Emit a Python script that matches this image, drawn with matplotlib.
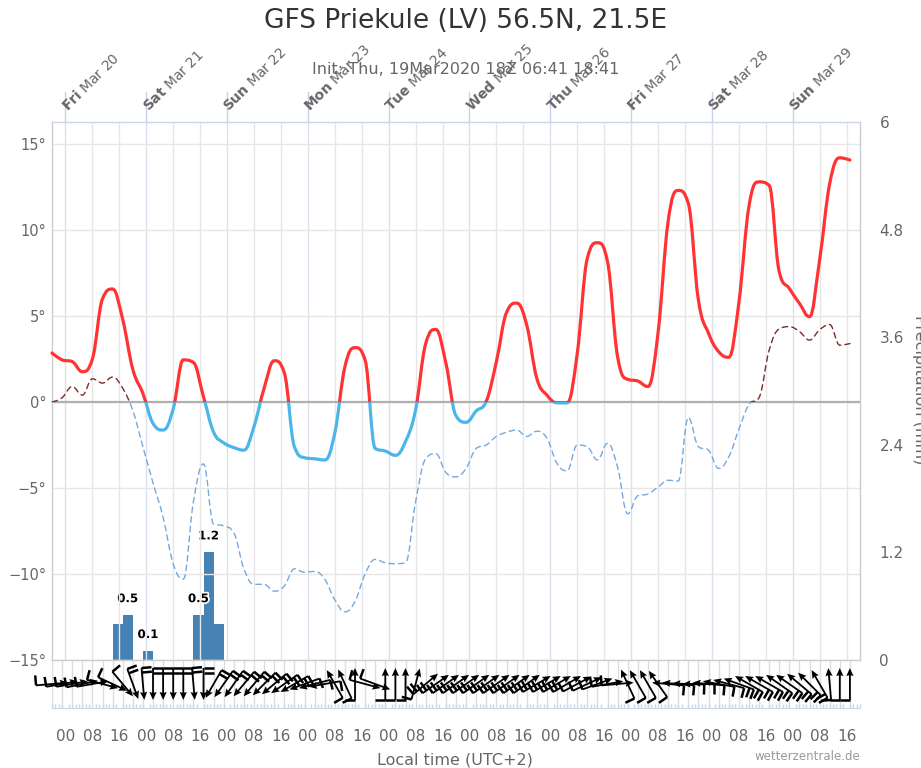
import numpy as np
import matplotlib
matplotlib.use("Agg")
import matplotlib.pyplot as plt
from matplotlib.path import Path
from matplotlib.patches import PathPatch, Rectangle
from matplotlib.collections import LineCollection
from matplotlib.transforms import IdentityTransform
import matplotlib.patheffects as pe

plt.rcParams['font.family'] = ['DejaVu Sans']

# ---------------- data ----------------
# hours after Thu 19 Mar 2020 20:00 local (UTC+2), 3-hourly
hours = np.arange(0, 240, 3)

temp = [2.85, 2.45, 2.35, 1.76, 2.5, 6.0, 6.57, 4.8, 1.9, 0.5,
        -1.24, -1.63, -0.4, 2.45, 2.3, 0.3, -1.75, -2.37, -2.65, -2.8,
        -1.43, 0.8, 2.4, 1.7, -2.6, -3.24, -3.3, -3.37, -1.8, 2.05,
        3.16, 2.44, -2.7, -2.85, -3.1, -2.3, -0.45, 3.4, 4.22, 2.26,
        -0.8, -1.18, -0.52, 0.05, 2.35, 5.2, 5.75, 4.48, 1.38, 0.4,
        -0.05, -0.05, 2.8, 8.35, 9.26, 8.16, 2.63, 1.32, 1.22, 0.9,
        4.0, 10.5, 12.3, 11.55, 5.93, 4.0, 2.93, 2.6, 5.74, 11.36,
        12.8, 12.6, 7.58, 6.6, 5.74, 4.96, 8.26, 12.7, 14.2, 14.07]

dewpoint = [0.0, 0.25, 0.9, 0.4, 1.35, 1.1, 1.45, 0.8, -0.5, -2.6,
            -4.7, -6.7, -9.4, -10.3, -5.8, -3.6, -7.1, -7.2, -7.6, -9.7,
            -10.6, -10.6, -11.0, -10.7, -9.7, -9.9, -9.85, -10.3, -11.5, -12.2,
            -11.6, -10.0, -9.15, -9.35, -9.4, -9.35, -5.8, -3.3, -3.0, -4.1,
            -4.35, -3.86, -2.7, -2.5, -2.0, -1.76, -1.63, -2.0, -1.7, -2.1,
            -3.57, -4.0, -2.5, -2.6, -3.37, -2.4, -3.8, -6.5, -5.45, -5.35,
            -4.95, -4.55, -4.6, -0.9, -2.6, -2.8, -3.86, -3.2, -1.6, -0.15,
            0.25, 3.0, 4.25, 4.38, 4.1, 3.6, 4.2, 4.5, 3.3, 3.4]

# 3-hourly precipitation (mm), accumulated over the 3 h ending at each time
precip = [0, 0, 0, 0, 0, 0, 0, 0.4, 0.5, 0,
          0.1, 0, 0, 0, 0, 0.5, 1.2, 0.4, 0, 0] + [0] * 60
precip_label = [False] * 80
for _i in (8, 10, 15, 16):
    precip_label[_i] = True

# wind arrow direction (degrees, direction the arrow points, 0 = east, 90 = north)
wind_dir = [5, 10, 10, 12, 10, -15, -25, -50, -70, -85,
            -90, -90, -90, -90, -85, -90, -120, -125, -125, -130,
            -130, -135, -140, -145, -150, -160, -165, -170, 120, 115,
            90, -15, -20, 90, 90, 90, 75, 40, 35, 35,
            35, 35, 35, 35, 35, 35, 35, 35, 30, 30,
            30, 30, 28, 25, 20, 10, 5, 115, 120, 120,
            125, 175, 175, 178, 180, 175, 170, 165, 160, 150,
            150, 150, 145, 145, 140, 135, 120, 95, 90, 90]
wind_barbs = [1, 1, 1, 1, 1, 1, 1, 1, 2, 2,
              2, 2, 2, 2, 2, 2, 2, 2, 2, 2,
              2, 2, 2, 2, 2, 1, 1, 1, 1, 1,
              1, 1, 1, 1, 1, 1, 1, 2, 2, 2,
              2, 2, 2, 2, 2, 2, 2, 2, 2, 2,
              2, 2, 1, 1, 1, 1, 1, 1, 1, 1,
              1, 1, 1, 1, 1, 1, 1, 1, 2, 2,
              2, 2, 2, 2, 2, 2, 2, 1, 1, 1]

day_hours = [4, 28, 52, 76, 100, 124, 148, 172, 196, 220]
day_names = ["Fri", "Sat", "Sun", "Mon", "Tue", "Wed", "Thu", "Fri", "Sat", "Sun"]
day_dates = ["Mar 20", "Mar 21", "Mar 22", "Mar 23", "Mar 24",
             "Mar 25", "Mar 26", "Mar 27", "Mar 28", "Mar 29"]
hour_ticks = np.arange(4, 240, 8)
hour_labels = ["00", "08", "16"] * 10

title = "GFS Priekule (LV) 56.5N, 21.5E"
subtitle = "Init: Thu, 19Mar2020 18Z 06:41 18:41"

# ---------------- helpers ----------------
def hc_spline(xs, ys, s=1.5):
    xs = list(map(float, xs)); ys = list(map(float, ys))
    n = len(xs); d = s + 1
    lc = [None] * n; rc = [None] * n
    for i in range(1, n - 1):
        lx, ly = xs[i - 1], ys[i - 1]
        nx_, ny = xs[i + 1], ys[i + 1]
        px, py = xs[i], ys[i]
        lcx = (s * px + lx) / d; lcy = (s * py + ly) / d
        rcx = (s * px + nx_) / d; rcy = (s * py + ny) / d
        if rcx != lcx:
            corr = ((rcy - lcy) * (rcx - px)) / (rcx - lcx) + py - rcy
            lcy += corr; rcy += corr
        if lcy > ly and lcy > py:
            lcy = max(ly, py); rcy = 2 * py - lcy
        elif lcy < ly and lcy < py:
            lcy = min(ly, py); rcy = 2 * py - lcy
        if rcy > ny and rcy > py:
            rcy = max(ny, py); lcy = 2 * py - rcy
        elif rcy < ny and rcy < py:
            rcy = min(ny, py); lcy = 2 * py - rcy
        lc[i] = (lcx, lcy); rc[i] = (rcx, rcy)
    verts = [(xs[0], ys[0])]; codes = [Path.MOVETO]
    for i in range(1, n):
        c1 = rc[i - 1] if rc[i - 1] is not None else (xs[i - 1], ys[i - 1])
        c2 = lc[i] if lc[i] is not None else (xs[i], ys[i])
        verts += [c1, c2, (xs[i], ys[i])]
        codes += [Path.CURVE4] * 3
    return Path(verts, codes)


def zoned_line(ax, xs, ys, col_pos, col_neg, lw, ls, z):
    path = hc_spline(xs, ys)
    for col, rect in ((col_pos, (-10, 0, 300, 60)), (col_neg, (-10, -60, 300, 60))):
        p = PathPatch(path, fill=False, edgecolor=col, lw=lw, linestyle=ls,
                      zorder=z, capstyle='round', joinstyle='round')
        ax.add_patch(p)
        clip = Rectangle(rect[:2], rect[2], rect[3], transform=ax.transData)
        p.set_clip_path(clip)

# ---------------- figure ----------------
W, H = 921, 768
fig = plt.figure(figsize=(W / 100, H / 100), dpi=100)
L, R, T, B = 52, 860, 122, 660
ax = fig.add_axes([L / W, 1 - B / H, (R - L) / W, (B - T) / H])
axw = fig.add_axes([L / W, 1 - 708 / H, (R - L) / W, (708 - B) / H])

ax.set_xlim(0, 240)
axw.set_xlim(0, 240)
ymin, ymax = -15, 16.28
ax.set_ylim(ymin, ymax)

# grid
ax.set_yticks([-15, -10, -5, 0, 5, 10, 15])
ax.set_yticklabels(["\u221215\u00b0", "\u221210\u00b0", "\u22125\u00b0", "0\u00b0", "5\u00b0", "10\u00b0", "15\u00b0"])
ax.tick_params(axis='y', length=0, pad=4, labelsize=10.5, labelcolor='#666666')
ax.grid(axis='y', color='#e6e6e6', lw=1.0)
for h in hour_ticks:
    c = '#dbe1ec' if h in day_hours else '#e6e6e6'
    ax.axvline(h, color=c, lw=1.0, zorder=0)
ax.set_axisbelow(True)

for sname, sp in ax.spines.items():
    sp.set_linewidth(1.0)
ax.spines['top'].set_color('#ccd6eb')
ax.spines['left'].set_color('#cccccc')
ax.spines['right'].set_color('#cccccc')
ax.spines['bottom'].set_color('#cccccc')

# top axis ticks at day boundaries (drawn as short lines above the plot)
ax.set_xticks([])
for h in day_hours:
    ax.plot([h, h], [1.0, 1.0 + 30 / (B - T)], transform=ax.get_xaxis_transform(),
            color='#c8d2e6', lw=1.0, clip_on=False, zorder=1)

# zero line
ax.axhline(0, color='#b0b0b0', lw=1.6, zorder=1)

# precipitation
ax2 = ax.twinx()
ax2.set_ylim(0, 6)
ax2.set_yticks([0, 1.2, 2.4, 3.6, 4.8, 6])
ax2.set_yticklabels(["0", "1.2", "2.4", "3.6", "4.8", "6"])
ax2.tick_params(axis='y', length=0, pad=14, labelsize=11, labelcolor='#666666')
for sp in ax2.spines.values():
    sp.set_visible(False)
pr = np.array(precip, dtype=float)
mask = pr > 0
ax2.bar(hours[mask] - 1.5, pr[mask], width=3.0, color='#4682b4', zorder=2, linewidth=0)
for h, v, lab in zip(hours, pr, precip_label):
    if lab:
        ax2.annotate(f"{v:.1f}", (h - 1.5, v), xytext=(0, 10), textcoords='offset pixels',
                     ha='center', va='bottom', fontsize=8.5, fontweight='bold', color='black',
                     path_effects=[pe.withStroke(linewidth=2.5, foreground='white')], zorder=5)

ax.set_zorder(ax2.get_zorder() + 1)
ax.patch.set_visible(False)
zoned_line(ax, hours, dewpoint, '#7a2a2a', '#75a8de', 1.0, (0, (4, 3)), 3)
zoned_line(ax, hours, temp, '#ff3333', '#4cb5ea', 2.3, '-', 4)

# day labels on top
for h, n, d in zip(day_hours, day_names, day_dates):
    ax.annotate(r"$\mathbf{" + n + "}$ " + d, (h, 1.0), xycoords=('data', 'axes fraction'),
                xytext=(2, 10), textcoords='offset pixels', rotation=45,
                rotation_mode='anchor', ha='left', va='baseline',
                fontsize=10, color='#666666', annotation_clip=False)

# ---------------- wind panel ----------------
axw.set_ylim(0, 1)
axw.set_yticks([])
for sname in ('left', 'right', 'top'):
    axw.spines[sname].set_visible(False)
axw.spines['bottom'].set_color('#ccd6eb')
for h in hours:
    axw.axvline(h, color='#dddddd', lw=1.0, zorder=0)
axw.set_xticks(hour_ticks)
axw.set_xticklabels(hour_labels)
axw.set_xticks(np.arange(0, 241, 1), minor=True)
axw.tick_params(axis='x', which='major', length=0, pad=15, labelsize=11, labelcolor='#666666',
                bottom=True, top=False, labelbottom=True, labeltop=False)
axw.tick_params(axis='x', which='minor', direction='in', length=3, color='#ccd6eb', width=1.0,
                bottom=True, top=False)
axw.patch.set_visible(False)

Lw = 32.0
ang = np.deg2rad(np.array(wind_dir, dtype=float))
U = Lw * np.cos(ang); V = Lw * np.sin(ang)
yc = np.full(len(hours), 0.5)
axw.quiver(hours, yc, U, V, angles='uv', scale_units='dots', scale=1, units='dots',
           width=1.8, headwidth=4.0, headlength=4.5, headaxislength=4.0,
           pivot='middle', color='black', zorder=3, clip_on=False)
segs = []
offs = []
for h, a, nb in zip(hours, ang, wind_barbs):
    dx, dy = np.cos(a), np.sin(a)
    tx, ty = -dx * Lw / 2, -dy * Lw / 2
    bx, by = np.cos(a + np.pi / 2), np.sin(a + np.pi / 2)
    for k in range(nb):
        sx, sy = tx + dx * 4.5 * k, ty + dy * 4.5 * k
        segs.append([(sx, sy), (sx + bx * 10, sy + by * 10)])
        offs.append((h, 0.5))
lc = LineCollection(segs, offsets=offs, offset_transform=axw.transData,
                    colors='black', linewidths=1.8, zorder=3)
lc.set_transform(IdentityTransform())
lc.set_clip_on(False)
axw.add_collection(lc)

# ---------------- texts ----------------
fig.text(0.5 * (L + R) / W + 0.01, 1 - 21 / H, title, ha='center', va='center',
         fontsize=19, color='#333333')
fig.text(0.5 * (L + R) / W + 0.01, 1 - 70 / H, subtitle, ha='center', va='center',
         fontsize=11.5, color='#666666')
fig.text(455 / W, 1 - 760 / H, "Local time (UTC+2)", ha='center', va='center',
         fontsize=11.5, color='#666666')
fig.text(R / W, 1 - 756 / H, "wetterzentrale.de", ha='right', va='center',
         fontsize=8.5, color='#999999')
fig.text(912 / W, 1 - 390 / H, "Precipitation (mm)", rotation=270, ha='left', va='center',
         fontsize=11.5, color='#666666')

fig.savefig("out.png", dpi=100)
